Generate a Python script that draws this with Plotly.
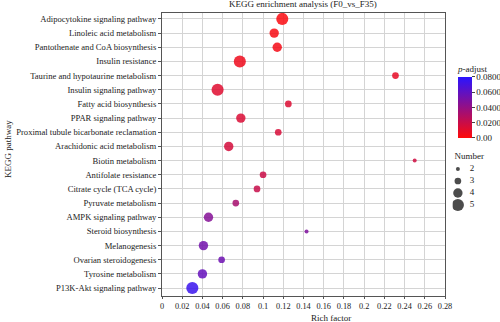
import plotly.graph_objects as go

pathways = [
    "Adipocytokine signaling pathway", "Linoleic acid metabolism",
    "Pantothenate and CoA biosynthesis", "Insulin resistance",
    "Taurine and hypotaurine metabolism", "Insulin signaling pathway",
    "Fatty acid biosynthesis", "PPAR signaling pathway",
    "Proximal tubule bicarbonate reclamation", "Arachidonic acid metabolism",
    "Biotin metabolism", "Antifolate resistance", "Citrate cycle (TCA cycle)",
    "Pyruvate metabolism", "AMPK signaling pathway", "Steroid biosynthesis",
    "Melanogenesis", "Ovarian steroidogenesis", "Tyrosine metabolism",
    "P13K-Akt signaling pathway",
]
rich_factor = [0.119, 0.111, 0.114, 0.077, 0.231, 0.055, 0.125, 0.078, 0.115, 0.066,
               0.250, 0.100, 0.094, 0.073, 0.046, 0.143, 0.041, 0.059, 0.040, 0.030]
number = [5, 4, 4, 5, 3, 5, 3, 4, 3, 4, 2, 3, 3, 3, 4, 2, 4, 3, 4, 5]
p_adjust = [0.002, 0.003, 0.004, 0.006, 0.009, 0.012, 0.013, 0.014, 0.015, 0.016,
            0.018, 0.020, 0.021, 0.033, 0.046, 0.048, 0.053, 0.055, 0.058, 0.074]
legend_numbers = [2, 3, 4, 5]
x_ticks = [0, 0.02, 0.04, 0.06, 0.08, 0.1, 0.12, 0.14, 0.16, 0.18, 0.2, 0.22, 0.24, 0.26, 0.28]
cb_ticks = [0, 0.02, 0.04, 0.06, 0.08]
cb_text = ["0.00", "0.0200", "0.0400", "0.0600", "0.0800"]

FONT = "Liberation Serif"
TXT = "#222"


def diam(n):
    return 4 + (n - 2) * 2.7


scale = [[0, "#ff0a0a"], [1, "#2a14ff"]]

fig = go.Figure()
fig.add_trace(go.Scatter(
    x=rich_factor, y=pathways, mode="markers", showlegend=False,
    marker=dict(size=[diam(n) for n in number], color=p_adjust, colorscale=scale,
                cmin=0, cmax=0.08, opacity=0.85, line=dict(width=0),
                colorbar=dict(
                    title=dict(text="<i>p</i>-adjust", side="top",
                               font=dict(family=FONT, size=9, color=TXT)),
                    x=0.8757, xanchor="left", y=0.8269, yanchor="top",
                    len=76, lenmode="pixels", thickness=14, outlinewidth=0,
                    xpad=0, ypad=0,
                    tickvals=cb_ticks, ticktext=cb_text, ticks="outside",
                    ticklen=3, tickcolor="#444",
                    tickfont=dict(family=FONT, size=9, color=TXT),
                )),
))

# size legend drawn on its own hidden axes
fig.add_trace(go.Scatter(
    x=[0.11] * len(legend_numbers), y=legend_numbers, mode="markers",
    xaxis="x2", yaxis="y2", showlegend=False, hoverinfo="skip",
    marker=dict(size=[diam(n) for n in legend_numbers], color="black", line=dict(width=0)),
))
fig.add_trace(go.Scatter(
    x=[0.36] * len(legend_numbers), y=legend_numbers, mode="text",
    xaxis="x2", yaxis="y2", showlegend=False, hoverinfo="skip",
    text=[str(n) for n in legend_numbers], textposition="middle right",
    textfont=dict(family=FONT, size=9, color=TXT),
))
fig.add_trace(go.Scatter(
    x=[0.04], y=[1.0], mode="text", xaxis="x2", yaxis="y2", showlegend=False,
    hoverinfo="skip", text=["Number"], textposition="middle right",
    textfont=dict(family=FONT, size=9, color=TXT),
))

axis_common = dict(
    showgrid=True, gridcolor="#d4d4d4", gridwidth=1,
    showline=True, linecolor="#555", linewidth=1, mirror=True,
    ticks="outside", tickcolor="#555", zeroline=False,
)

fig.update_layout(
    width=500, height=322,
    margin=dict(l=162, r=0, t=13, b=26, autoexpand=False),
    paper_bgcolor="white", plot_bgcolor="white",
    font=dict(family=FONT, size=9, color=TXT),
    showlegend=False,
    title=dict(text="KEGG enrichment analysis (F0_vs_F35)", xref="paper", x=0.417,
               xanchor="center", y=0.997, yanchor="top",
               font=dict(family=FONT, size=9, color=TXT)),
    xaxis=dict(domain=[0, 0.8373], range=[0, 0.28], tickvals=x_ticks,
               ticktext=[f"{v:g}" for v in x_ticks], tickangle=0, ticklen=2,
               tickfont=dict(family=FONT, size=8.3, color=TXT),
               **axis_common),
    yaxis=dict(type="category", categoryorder="array", categoryarray=pathways[::-1],
               range=[-0.56, 19.42], ticklen=3,
               tickfont=dict(family=FONT, size=8.6, color=TXT),
               **axis_common),
    xaxis2=dict(domain=[0.86, 1.0], range=[0, 1], visible=False, anchor="y2"),
    yaxis2=dict(domain=[0, 1], range=[12.58, -11], visible=False, anchor="x2"),
    annotations=[
        dict(text="Rich factor", xref="paper", yref="paper", x=0.5, y=-0.076,
             xanchor="center", yanchor="middle", showarrow=False, borderpad=0,
             font=dict(family=FONT, size=9, color=TXT)),
        dict(text="KEGG pathway", xref="paper", yref="paper", x=-0.455, y=0.52,
             xanchor="center", yanchor="middle", textangle=-90, showarrow=False,
             font=dict(family=FONT, size=9, color=TXT)),
    ],
)

fig.write_html("out.html")
